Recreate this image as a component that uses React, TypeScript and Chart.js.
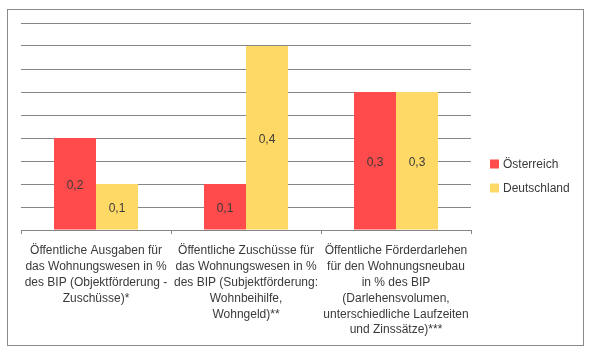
import React, { useEffect, useRef } from "react";
import { Chart, registerables } from "chart.js";

Chart.register(...registerables);

const categories: string[][] = [
  ["Öffentliche Ausgaben für", "das Wohnungswesen in %", "des BIP (Objektförderung -", "Zuschüsse)*"],
  ["Öffentliche Zuschüsse für", "das Wohnungswesen in %", "des BIP (Subjektförderung:", "Wohnbeihilfe,", "Wohngeld)**"],
  ["Öffentliche Förderdarlehen", "für den Wohnungsneubau", "in % des BIP", "(Darlehensvolumen,", "unterschiedliche Laufzeiten", "und Zinssätze)***"],
];
const seriesNames = ["Österreich", "Deutschland"];
const oesterreich = [0.2, 0.1, 0.3];
const deutschland = [0.1, 0.4, 0.3];
const yMin = 0;
const yMax = 0.45;
const yStep = 0.05;

const RED = "#FF4B4B";
const YELLOW = "#FFD966";
const GRID = "#868686";
const TEXT = "#3a3a3a";
const FONT = "'Liberation Sans', Arial, sans-serif";

const framePlugin = {
  id: "frame",
  afterDraw(chart: any) {
    const ctx = chart.ctx;
    ctx.save();
    ctx.strokeStyle = "#8a8a8a";
    ctx.lineWidth = 1;
    ctx.strokeRect(7.5, 9.5, 576, 336);
    ctx.restore();
  },
};

const labelPlugin = {
  id: "barLabels",
  afterDatasetsDraw(chart: any) {
    const ctx = chart.ctx;
    ctx.save();
    ctx.font = `12px ${FONT}`;
    ctx.fillStyle = TEXT;
    ctx.textAlign = "center";
    ctx.textBaseline = "middle";
    chart.data.datasets.forEach((ds: any, i: number) => {
      const meta = chart.getDatasetMeta(i);
      meta.data.forEach((el: any, j: number) => {
        const v = ds.data[j] as number;
        const txt = v.toFixed(1).replace(".", ",");
        ctx.fillText(txt, el.x, (el.y + el.base) / 2 + 2);
      });
    });
    ctx.restore();
  },
};

const legendPlugin = {
  id: "customLegend",
  afterDraw(chart: any) {
    const ctx = chart.ctx;
    ctx.save();
    ctx.font = `12px ${FONT}`;
    ctx.textAlign = "left";
    ctx.textBaseline = "middle";
    const n = chart.data.datasets.length;
    const gap = 24;
    const cy = 176;
    chart.data.datasets.forEach((ds: any, i: number) => {
      const y = cy - ((n - 1) * gap) / 2 + i * gap;
      ctx.fillStyle = ds.backgroundColor;
      ctx.fillRect(490, y - 4.5, 9, 9);
      ctx.fillStyle = TEXT;
      ctx.fillText(ds.label, 503, y + 1);
    });
    ctx.restore();
  },
};

export default function App() {
  const ref = useRef<HTMLCanvasElement | null>(null);
  useEffect(() => {
    if (!ref.current) return;
    const chart = new Chart(ref.current, {
      type: "bar",
      data: {
        labels: categories,
        datasets: [
          { label: seriesNames[0], data: oesterreich, backgroundColor: RED, categoryPercentage: 0.56, barPercentage: 1 },
          { label: seriesNames[1], data: deutschland, backgroundColor: YELLOW, categoryPercentage: 0.56, barPercentage: 1 },
        ],
      },
      options: {
        animation: false,
        responsive: true,
        maintainAspectRatio: false,
        layout: { padding: { top: 23, left: 21, right: 128, bottom: 0 } },
        plugins: { legend: { display: false }, tooltip: { enabled: false } },
        scales: {
          x: {
            afterFit(scale: any) {
              scale.height = 126;
            },
            grid: { offset: true, drawOnChartArea: false, tickLength: 4, color: GRID },
            border: { display: true, color: GRID },
            ticks: {
              autoSkip: false,
              maxRotation: 0,
              minRotation: 0,
              padding: 9,
              color: TEXT,
              font: { family: FONT, size: 12, lineHeight: 1.32 },
            },
          },
          y: {
            min: yMin,
            max: yMax,
            afterFit(scale: any) {
              scale.width = 0;
            },
            ticks: { display: false, stepSize: yStep },
            grid: { color: GRID, drawTicks: false },
            border: { display: false },
          },
        },
      },
      plugins: [framePlugin, labelPlugin, legendPlugin],
    });
    return () => chart.destroy();
  }, []);
  return (
    <div style={{ position: "fixed", left: 0, top: 0, width: 599, height: 356, background: "#fff" }}>
      <canvas ref={ref} />
    </div>
  );
}
